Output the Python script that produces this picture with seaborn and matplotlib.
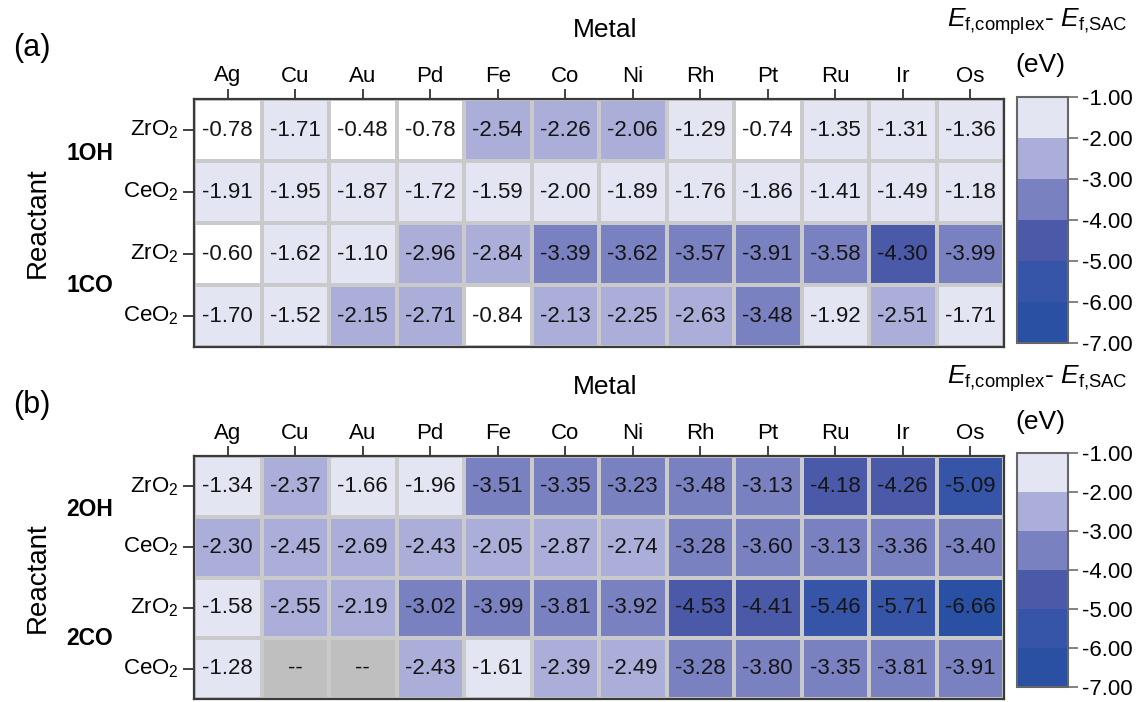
import numpy as np
import matplotlib
matplotlib.use("Agg")
import matplotlib.pyplot as plt
from matplotlib.colors import ListedColormap, BoundaryNorm
from matplotlib.ticker import FormatStrFormatter
from matplotlib.transforms import blended_transform_factory
import seaborn as sns

# ---- data -----------------------------------------------------------------
metals = ["Ag", "Cu", "Au", "Pd", "Fe", "Co", "Ni", "Rh", "Pt", "Ru", "Ir", "Os"]
supports = ["ZrO$_\\mathregular{2}$", "CeO$_\\mathregular{2}$"]
groups_a = ["1OH", "1CO"]
groups_b = ["2OH", "2CO"]

oh1_zro2 = [-0.78, -1.71, -0.48, -0.78, -2.54, -2.26, -2.06, -1.29, -0.74, -1.35, -1.31, -1.36]
oh1_ceo2 = [-1.91, -1.95, -1.87, -1.72, -1.59, -2.00, -1.89, -1.76, -1.86, -1.41, -1.49, -1.18]
co1_zro2 = [-0.60, -1.62, -1.10, -2.96, -2.84, -3.39, -3.62, -3.57, -3.91, -3.58, -4.30, -3.99]
co1_ceo2 = [-1.70, -1.52, -2.15, -2.71, -0.84, -2.13, -2.25, -2.63, -3.48, -1.92, -2.51, -1.71]

oh2_zro2 = [-1.34, -2.37, -1.66, -1.96, -3.51, -3.35, -3.23, -3.48, -3.13, -4.18, -4.26, -5.09]
oh2_ceo2 = [-2.30, -2.45, -2.69, -2.43, -2.05, -2.87, -2.74, -3.28, -3.60, -3.13, -3.36, -3.40]
co2_zro2 = [-1.58, -2.55, -2.19, -3.02, -3.99, -3.81, -3.92, -4.53, -4.41, -5.46, -5.71, -6.66]
co2_ceo2 = [-1.28, np.nan, np.nan, -2.43, -1.61, -2.39, -2.49, -3.28, -3.80, -3.35, -3.81, -3.91]

level_edges = [-7, -6, -5, -4, -3, -2, -1]
level_colors = ["#2a50a4", "#3755a8", "#4a5aa9", "#7a81c1", "#abaed9", "#e4e5f3"]
missing_label = "--"

# ---- style ----------------------------------------------------------------
plt.rcParams["font.family"] = ["Liberation Sans", "DejaVu Sans"]
plt.rcParams["mathtext.fontset"] = "custom"
plt.rcParams["mathtext.rm"] = "Liberation Sans"
plt.rcParams["mathtext.it"] = "Liberation Sans:italic"
plt.rcParams["mathtext.bf"] = "Liberation Sans:bold"
plt.rcParams["axes.unicode_minus"] = False

cmap = ListedColormap(level_colors)
cmap.set_over("white")
cmap.set_bad("#bfbfbf")
norm = BoundaryNorm(level_edges, ncolors=len(level_colors))

W, H = 1139, 702
fig = plt.figure(figsize=(W / 100, H / 100), dpi=100)

ax_a = fig.add_axes([194 / W, 1 - 347 / H, 810 / W, 248 / H])
cax_a = fig.add_axes([1017 / W, 1 - 343 / H, 51 / W, 246 / H])
ax_b = fig.add_axes([194 / W, 1 - 699 / H, 810 / W, 243 / H])
cax_b = fig.add_axes([1017 / W, 1 - 687 / H, 51 / W, 234 / H])


def draw_panel(ax, cax, rows, groups, letter, top_px):
    data = np.array(rows, dtype=float)
    annot = np.array([["" if np.isnan(v) else f"{v:.2f}" for v in r] for r in data])
    sns.heatmap(
        data, ax=ax, cbar_ax=cax, cmap=cmap, norm=norm,
        annot=annot, fmt="",
        annot_kws=dict(fontsize=16, color="#151515"),
        linewidths=1.6, linecolor="#cacaca",
        xticklabels=metals, yticklabels=supports * 2,
    )
    # cells without a value
    for r, c in np.argwhere(np.isnan(data)):
        ax.text(c + 0.5, r + 0.5, missing_label, ha="center", va="center",
                fontsize=16, color="#151515")

    ax.xaxis.tick_top()
    ax.tick_params(axis="x", top=True, bottom=False, labeltop=True,
                   labelbottom=False, length=7, width=1.3, color="#333333",
                   pad=2, labelsize=16, labelrotation=0)
    ax.tick_params(axis="y", left=True, length=8, width=1.3, color="#333333",
                   pad=3, labelsize=16, labelrotation=0)
    for s in ax.spines.values():
        s.set_visible(True)
        s.set_color("#3a3a3a")
        s.set_linewidth(1.6)

    cb = ax.collections[0].colorbar
    cb.set_ticks(level_edges)
    cb.ax.yaxis.set_major_formatter(FormatStrFormatter("%.2f"))
    cb.outline.set_edgecolor("#666666")
    cb.outline.set_linewidth(1.5)
    cb.ax.tick_params(length=7, width=1.3, color="#777777", labelsize=16, pad=3)

    # group labels between the two support rows
    tr = blended_transform_factory(fig.transFigure, ax.transData)
    ax.text(90 / W, 0.88, groups[0], transform=tr, ha="center", va="center",
            fontsize=16.5, fontweight="bold")
    ax.text(90 / W, 3.0, groups[1], transform=tr, ha="center", va="center",
            fontsize=16.5, fontweight="bold")

    # axis titles and panel letter
    pos = ax.get_position()
    fig.text(38 / W, (pos.y0 + pos.y1) / 2, "Reactant", rotation=90,
             ha="center", va="center", fontsize=20)
    fig.text(605 / W, 1 - (top_px + 2) / H, "Metal", ha="center", va="center",
             fontsize=19)
    fig.text(32 / W, 1 - (top_px + 20) / H, letter, ha="center", va="center",
             fontsize=22)
    fig.text(1037 / W, 1 - (top_px - 6) / H,
             r"$E_{\mathregular{f{,}complex}}$- $E_{\mathregular{f{,}SAC}}$",
             ha="center", va="center", fontsize=19)
    fig.text(1040 / W, 1 - (top_px + 37) / H, "(eV)", ha="center",
             va="center", fontsize=19)


draw_panel(ax_a, cax_a, [oh1_zro2, oh1_ceo2, co1_zro2, co1_ceo2], groups_a, "(a)", 28)
draw_panel(ax_b, cax_b, [oh2_zro2, oh2_ceo2, co2_zro2, co2_ceo2], groups_b, "(b)", 385)

fig.savefig("out.png", dpi=100)
